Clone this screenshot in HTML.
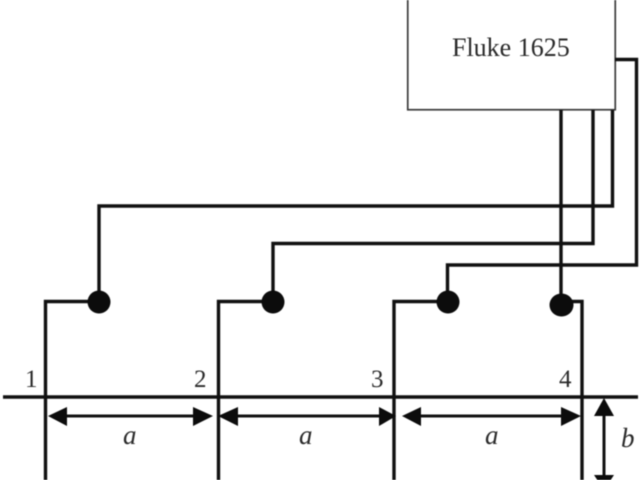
<!DOCTYPE html>
<html>
<head>
<meta charset="utf-8">
<style>
html,body{margin:0;padding:0;background:#fff;width:640px;height:480px;overflow:hidden}
svg{display:block;filter:blur(0.45px)}
text{font-family:"Liberation Serif",serif;fill:#2a2a2a}
</style>
</head>
<body>
<svg width="640" height="480" viewBox="0 0 640 480" xmlns="http://www.w3.org/2000/svg">
<rect width="640" height="480" fill="#fff"/>
<rect x="407.75" y="-10" width="207.5" height="119.75" fill="#fff" stroke="#3a3a3a" stroke-width="1.7"/>
<text x="452" y="56" font-size="26">Fluke 1625</text>
<g fill="none" stroke="#111" stroke-width="3.4">
<path d="M612.5 110V206H99V302"/>
<path d="M593 110V243.5H273V302"/>
<path d="M615 59.5H636.5V265H447.5V302"/>
<path d="M561 110V305"/>
<path d="M99 301.5H45.5V480"/>
<path d="M273 301.5H218.5V480"/>
<path d="M448 301.5H394V480"/>
<path d="M561 301.5H582V480"/>
<path d="M3 397H638"/>
<path d="M60 416H200M232 416H385M415 416H570" stroke-width="3"/>
<path d="M604 410V478" stroke-width="3"/>
</g>
<g fill="#0c0c0c">
<circle cx="99" cy="302" r="11.5"/>
<circle cx="273" cy="302" r="11.5"/>
<circle cx="448" cy="302" r="11.5"/>
<ellipse cx="561.5" cy="305" rx="12" ry="11.5"/>
<path d="M48 416L67 407V426Z"/>
<path d="M213 416L193 407V426Z"/>
<path d="M218 416L238 407V426Z"/>
<path d="M396 416L379 407V426Z"/>
<path d="M402 416L421 407V426Z"/>
<path d="M581 416L561 407V426Z"/>
<path d="M604 398L594 416H614Z"/>
<path d="M604 490L594 475H614Z"/>
</g>
<text x="25" y="387" font-size="25">1</text>
<text x="194" y="387" font-size="25">2</text>
<text x="371" y="387" font-size="25">3</text>
<text x="559" y="387" font-size="25">4</text>
<g font-size="27">
<text x="123" y="444" style="font-style:italic">a</text>
<text x="299" y="444" style="font-style:italic">a</text>
<text x="485" y="444" style="font-style:italic">a</text>
<text x="621" y="447" style="font-style:italic">b</text>
</g>
</svg>
</body>
</html>
